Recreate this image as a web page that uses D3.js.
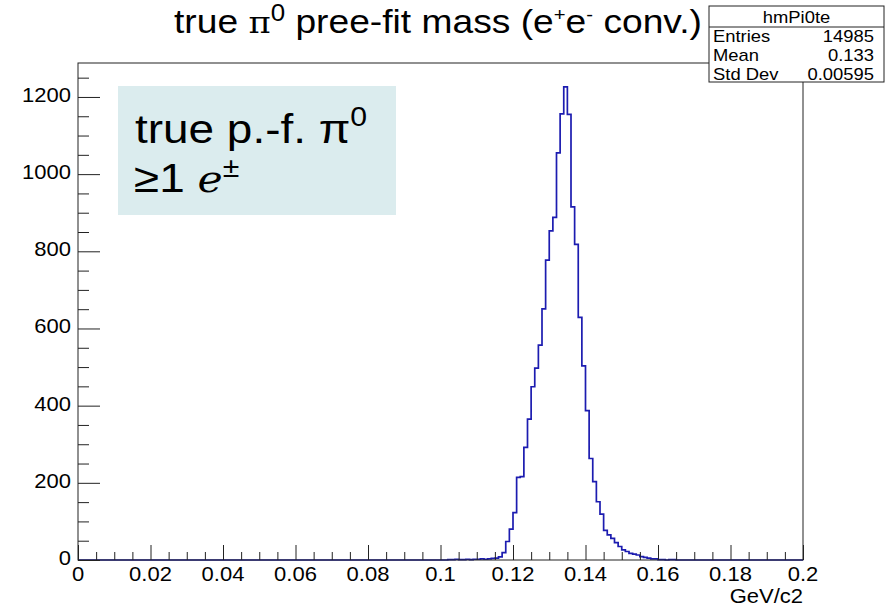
<!DOCTYPE html>
<html>
<head>
<meta charset="utf-8">
<script src="https://cdn.jsdelivr.net/npm/d3@7"></script>
<style>
  body { margin: 0; background: #fff; }
  text { font-family: "Liberation Sans", Arial, Helvetica, sans-serif; }
</style>
</head>
<body>
<div id="canvas"></div>
<script>
// histogram: 200 bins of 0.001 from 0 to 0.2, only bins from 0.100 on are non-empty
const nBins = 200;
const binWidth = 0.001;
const firstBin = 100;
const counts = [
    0, 0, 1, 1, 2, 1, 1, 2, 1, 2,            // 0.100 - 0.109
    2, 3, 2, 3, 4, 5, 8, 19, 48, 80,         // 0.110 - 0.119
    123, 214, 216, 292, 365, 449, 497, 557, 651, 777,   // 0.120 - 0.129
    853, 888, 1055, 1156, 1226, 1155, 915, 818, 629, 503, // 0.130 - 0.139
    387, 263, 203, 151, 119, 77, 65, 56, 45, 35,         // 0.140 - 0.149
    26, 22, 17, 15, 13, 9, 7, 5, 3, 3,       // 0.150 - 0.159
    1, 1, 0, 1, 1, 0                         // 0.160 - 0.165
];

const xTicks = [0, 0.02, 0.04, 0.06, 0.08, 0.1, 0.12, 0.14, 0.16, 0.18, 0.2];
const xTickLabels = ["0", "0.02", "0.04", "0.06", "0.08", "0.1", "0.12", "0.14", "0.16", "0.18", "0.2"];
const yTicks = [0, 200, 400, 600, 800, 1000, 1200];
const yMax = 1288;

const histName = "hmPi0te";
const statNames = ["Entries", "Mean", "Std Dev"];
const statValues = ["14985", "0.133", "0.00595"];

const width = 890, height = 608;
const frame = { left: 78, right: 803, top: 63, bottom: 560 };
const stretch = 1.1;   // the picture is a bit wider than tall

const svg = d3.select('#canvas').append('svg')
    .attr('width', width)
    .attr('height', height);

const x = d3.scaleLinear().domain([0, 0.2]).range([frame.left, frame.right]);
const y = d3.scaleLinear().domain([0, yMax]).range([frame.bottom, frame.top]);

// put a text in a group so it can be stretched sideways round its anchor
function label(parent, px, py, str, size, anchor, sx) {
    const g = parent.append('g')
        .attr('transform', 'translate(' + px + ',' + py + ') scale(' + (sx || stretch) + ',1)');
    return g.append('text')
        .attr('font-size', size)
        .attr('text-anchor', anchor || 'start')
        .text(str);
}

// ---- histogram
let allBins = [];
for (let i = 0; i < nBins; i++) {
    let k = i - firstBin;
    allBins.push({ lo: i * binWidth, n: (k >= 0 && k < counts.length) ? counts[k] : 0 });
}
let points = allBins.map(function (b) { return [b.lo, b.n]; });
points.push([nBins * binWidth, allBins[nBins - 1].n]);

const line = d3.line()
    .x(function (d) { return x(d[0]); })
    .y(function (d) { return y(d[1]); })
    .curve(d3.curveStepAfter);

svg.append('path')
    .attr('d', line(points))
    .attr('fill', 'none')
    .attr('stroke', '#1c1cb0')
    .attr('stroke-width', 1.7);

// ---- frame and axes
svg.append('rect')
    .attr('x', frame.left)
    .attr('y', frame.top)
    .attr('width', frame.right - frame.left)
    .attr('height', frame.bottom - frame.top)
    .attr('fill', 'none')
    .attr('stroke', '#222')
    .attr('stroke-width', 1);

const xAxis = d3.axisBottom(x)
    .tickValues(d3.range(0, 0.2001, 0.005))
    .tickSize(0)
    .tickFormat('');
const xg = svg.append('g').attr('transform', 'translate(0,' + frame.bottom + ')').call(xAxis);
xg.select('.domain').remove();
xg.selectAll('.tick line')
    .attr('y2', function (d) {
        return Math.abs(d / 0.02 - Math.round(d / 0.02)) < 1e-6 ? -15 : -8;
    })
    .attr('stroke', '#222');

const yAxis = d3.axisLeft(y)
    .tickValues(d3.range(0, 1251, 50))
    .tickSize(0)
    .tickFormat('');
const yg = svg.append('g').attr('transform', 'translate(' + frame.left + ',0)').call(yAxis);
yg.select('.domain').remove();
yg.selectAll('.tick line')
    .attr('x2', function (d) { return d % 200 == 0 ? 22 : 11; })
    .attr('stroke', '#222');

// tick labels
xTicks.forEach(function (t, i) {
    label(svg, x(t), 581, xTickLabels[i], 20, 'middle');
});
yTicks.forEach(function (t) {
    label(svg, 71, y(t) + 5, String(t), 20, 'end');
});
label(svg, frame.right, 603, 'GeV/c2', 20, 'end');

// ---- title, squeezed to run from x=174 to the stats box
const title = label(svg, 174, 33, '', 33, 'start', 1);
title.append('tspan').text('true ');
title.append('tspan').text('\u03c0').attr('font-family', '"DejaVu Serif", serif').attr('font-size', 30);
title.append('tspan').text('0').attr('font-size', 23).attr('dy', -12);
title.append('tspan').text(' pree-fit mass (e').attr('dy', 12);
title.append('tspan').text('+').attr('font-size', 18).attr('dy', -12);
title.append('tspan').text('e').attr('dy', 12);
title.append('tspan').text('-').attr('font-size', 18).attr('dy', -12);
title.append('tspan').text(' conv.)').attr('dy', 12);
const titleW = title.node().getComputedTextLength();
d3.select(title.node().parentNode)
    .attr('transform', 'translate(174,33) scale(' + (528 / titleW) + ',1)');

// ---- stats box
const box = { left: 709, right: 884, top: 6, bottom: 82 };
svg.append('rect')
    .attr('x', box.left)
    .attr('y', box.top)
    .attr('width', box.right - box.left)
    .attr('height', box.bottom - box.top)
    .attr('fill', '#fff')
    .attr('stroke', '#222');
svg.append('line')
    .attr('x1', box.left).attr('x2', box.right)
    .attr('y1', 27).attr('y2', 27)
    .attr('stroke', '#222');
label(svg, (box.left + box.right) / 2, 23, histName, 16, 'middle', 1.15);
statNames.forEach(function (s, i) {
    label(svg, box.left + 4, 42 + i * 19, s, 16, 'start', 1.15);
    label(svg, box.right - 10, 42 + i * 19, statValues[i], 16, 'end', 1.15);
});

// ---- annotation pasted on the plot
svg.append('rect')
    .attr('x', 118)
    .attr('y', 86)
    .attr('width', 278)
    .attr('height', 129)
    .attr('fill', '#dbecee');

const note1 = label(svg, 135, 143, '', 41, 'start', 1.12);
note1.append('tspan').text('true p.-f. \u03c0');
note1.append('tspan').text('0').attr('font-size', 27).attr('dy', -17);

const note2 = label(svg, 134, 192, '', 41, 'start', 1.12);
note2.append('tspan').text('\u22651 ');
note2.append('tspan').text('e')
    .attr('font-family', '"DejaVu Serif", "Liberation Serif", serif')
    .attr('font-style', 'italic')
    .attr('font-size', 38);
note2.append('tspan').text('\u00b1').attr('font-size', 27).attr('dy', -15);
</script>
</body>
</html>
